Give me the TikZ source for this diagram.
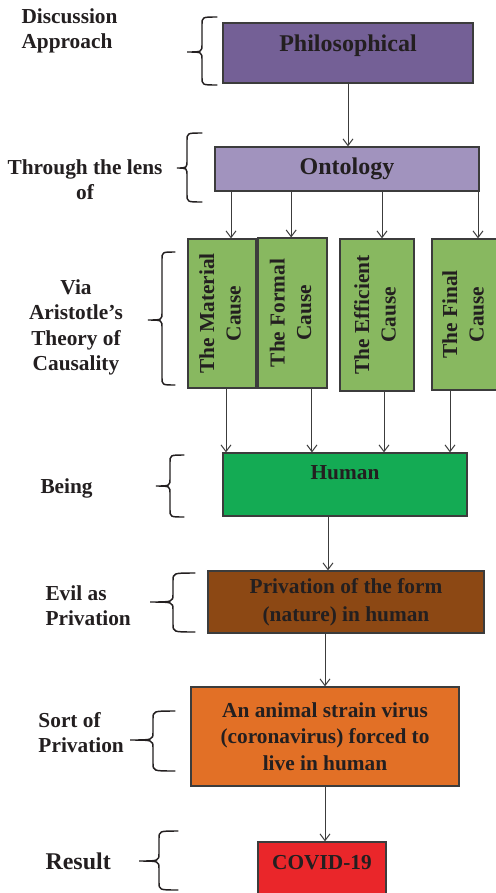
\documentclass[tikz,border=0pt]{standalone}
\usepackage{fontspec}
\setmainfont{Liberation Serif}
\usepackage{graphicx}
\usetikzlibrary{arrows.meta}

\definecolor{ink}{RGB}{35,31,32}
\definecolor{edge}{RGB}{60,60,60}
\definecolor{philo}{RGB}{116,96,150}
\definecolor{onto}{RGB}{161,147,190}
\definecolor{cause}{RGB}{136,184,96}
\definecolor{human}{RGB}{20,171,84}
\definecolor{privc}{RGB}{140,72,20}
\definecolor{sortc}{RGB}{226,112,38}
\definecolor{covid}{RGB}{234,38,42}

\tikzset{every picture/.style={line width=0.75pt}}
\tikzset{
  box/.style={draw=edge, line width=0.9pt, inner sep=0pt, text=ink, align=center,
    font=\bfseries\fontsize{16}{20}\selectfont},
  lbl/.style={inner sep=0pt, text=ink, font=\bfseries\fontsize{16}{19}\selectfont},
  arr/.style={draw=edge, -{Straight Barb[length=5pt,width=7.5pt]}},
  brc/.style={draw=ink, line width=1.1pt, line cap=round},
}

% curly brace opening to the right: tip x, stem x, arm x, top y, tip y, bottom y
\newcommand{\sidebrace}[6]{%
  \draw[brc] (#3,#4) .. controls (#2,#4) .. (#2,{#4+8}) -- (#2,{#5-8})
    .. controls (#2,#5) .. (#1,#5) .. controls (#2,#5) .. (#2,{#5+8})
    -- (#2,{#6-8}) .. controls (#2,#6) .. (#3,#6);}
\newcommand{\causetxt}[2]{\rotatebox{90}{\begin{tabular}{@{}c@{}}#1\\#2\end{tabular}}}

\begin{document}
\begin{tikzpicture}[x=0.75pt,y=0.75pt,yscale=-1,xscale=1]
\path[use as bounding box, fill=white] (0,0) rectangle (496,893);

%Shape: Rectangle
\node (phil) at (348,53) [box, fill=philo, minimum width=187.5pt, text height=21pt, text depth=24pt,
  font=\bfseries\fontsize{18}{22}\selectfont] {Philosophical};
%Shape: Rectangle
\node (ont) at (347,169) [box, fill=onto, minimum width=198pt, minimum height=33pt,
  font=\bfseries\fontsize{18}{22}\selectfont] {Ontology};
%Shape: Rectangle (the four causes)
\node (mat) at (222,313.5) [box, fill=cause, minimum width=51pt, minimum height=111.75pt] {\causetxt{The Material}{Cause}};
\node (frm) at (292.5,313) [box, fill=cause, minimum width=51.75pt, minimum height=112.5pt] {\causetxt{The Formal}{Cause}};
\node (eff) at (377,315) [box, fill=cause, minimum width=55.5pt, minimum height=114pt] {\causetxt{The Efficient}{Cause}};
\node (fin) at (465,314.5) [box, fill=cause, minimum width=49.5pt, minimum height=113.25pt] {\causetxt{The Final}{Cause}};
%Shape: Rectangle
\node (hum) at (345,484.5) [box, fill=human, minimum width=183pt, text height=19.5pt, text depth=27.75pt] {Human};
%Shape: Rectangle
\node (priv) at (346,602) [box, fill=privc, minimum width=207pt, minimum height=46.5pt,
  font=\bfseries\fontsize{16}{21}\selectfont] {Privation of the form\\(nature) in human};
%Shape: Rectangle
\node (sort) at (325,736.5) [box, fill=sortc, minimum width=201pt, minimum height=74.25pt] {An animal strain virus\\(coronavirus) forced to\\live in human};
%Shape: Rectangle
\node (cov) at (322,873.5) [box, fill=covid, minimum width=96pt, text height=20.25pt, text depth=27pt] {COVID-19};

%Straight Lines
\draw[arr] (phil.south) -- (phil.south |- ont.north);
\foreach \n/\a/\b in {mat/6.75/3, frm/-1/14.6, eff/3.75/5.25, fin/9.75/-11.25}{
  \coordinate (t) at ([xshift=\a pt]\n.north);
  \draw[arr] (t |- ont.south) -- (t);
  \coordinate (s) at ([xshift=\b pt]\n.south);
  \draw[arr] (s) -- (s |- hum.north);
}
\coordinate (h) at ([xshift=-12.75pt]hum.south);
\draw[arr] (h) -- (h |- priv.north);
\draw[arr] (priv.south -| sort.north) -- (sort.north);
\draw[arr] (sort.south) -- (sort.south |- cov.north);

%Shape: Brace
\sidebrace{187}{202}{217}{17}{52}{85}
\sidebrace{177}{187}{202}{133}{168}{202}
\sidebrace{148}{162}{175}{252}{320}{385}
\sidebrace{156}{170}{184}{455}{486}{517}
\sidebrace{150}{173}{195}{573}{602}{632}
\sidebrace{130}{153}{175}{711}{740}{771}
\sidebrace{139}{159}{178}{831}{861}{890}

% Text Node
\node (lapp) at (21,31) [lbl, anchor=west, align=left] {Discussion\\Approach};
% Text Node
\node (llens) at (85,180) [lbl, align=center] {Through the lens\\of};
% Text Node
\node (lvia) at (76,327.5) [lbl, align=center] {Via\\Aristotle’s\\Theory of\\Causality};
% Text Node
\node (lbeing) at (40,488) [lbl, anchor=west] {Being};
% Text Node
\node (levil) at (45,605.5) [lbl, anchor=west, align=left] {Evil as\\Privation};
% Text Node
\node (lsort) at (38,732.5) [lbl, anchor=west, align=left] {Sort of\\Privation};
% Text Node
\node (lres) at (45,861) [lbl, anchor=west, font=\bfseries\fontsize{18}{22}\selectfont] {Result};

\end{tikzpicture}
\end{document}
